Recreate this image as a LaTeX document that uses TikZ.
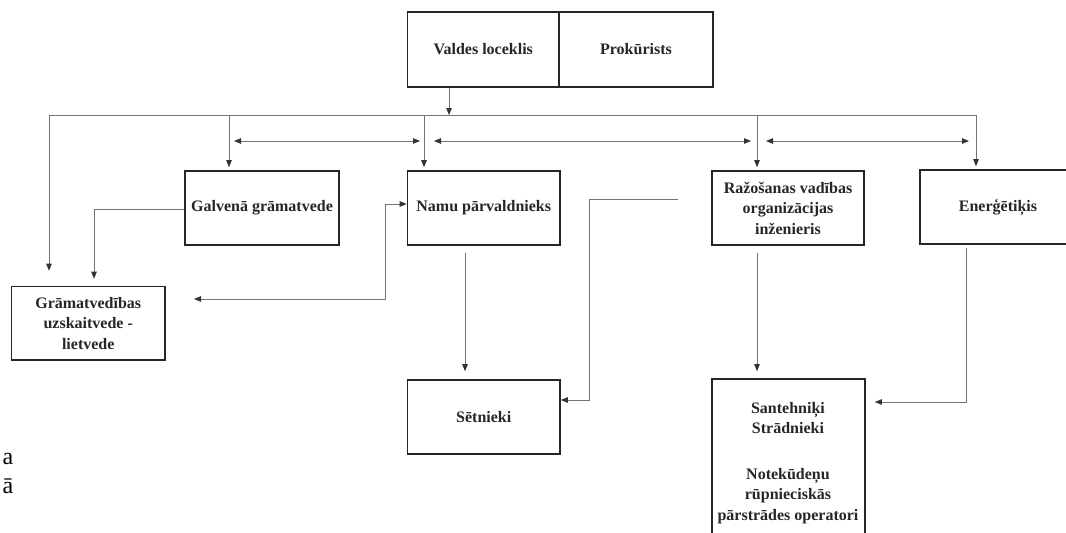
\documentclass[tikz,border=0pt]{standalone}
\usepackage{fontspec}
\setmainfont{Liberation Serif}
\usetikzlibrary{arrows.meta}
\tikzset{
  box/.style={draw=black!85, line width=1.6pt, text=black!85,
    font=\bfseries\fontsize{16}{20.5}\selectfont, align=center, inner sep=0pt},
  lbl/.style={text=black!85, font=\bfseries\fontsize{16}{20.5}\selectfont, align=center, inner sep=0pt},
  frag/.style={text=black, font=\fontsize{24}{28}\selectfont, inner sep=0pt, anchor=base east},
  ln/.style={draw=black!55, line width=0.8pt},
  arr/.style={ln, -{Triangle[length=7pt,width=5.5pt,color=black!80]}},
  arrs/.style={ln, {Triangle[length=7pt,width=5.5pt,color=black!80]}-{Triangle[length=7pt,width=5.5pt,color=black!80]}},
}
\begin{document}
\begin{tikzpicture}[x=1pt,y=-1pt]
\useasboundingbox (0,0) rectangle (1066,533);
\fill[white] (0,0) rectangle (1066,533);

% boxes
\node[box, minimum width=151.5pt, minimum height=75pt] (valdes) at (483.25,49.5) {Valdes loceklis};
\node[box, minimum width=154pt, minimum height=75pt] (prok) at (636,49.5) {Prokūrists};
\node[box, minimum width=154pt, minimum height=74pt] (galv) at (262,208) {Galvenā grāmatvede};
\node[box, minimum width=152.5pt, minimum height=74pt] (namu) at (483.75,208) {Namu pārvaldnieks};
\node[box, minimum width=152pt, minimum height=74pt] (razo) at (788,208) {Ražošanas vadības\\organizācijas\\inženieris};
\node[box, minimum width=156pt, minimum height=74pt] (energ) at (998,207) {Enerģētiķis};
\node[box, minimum width=153.5pt, minimum height=73.5pt] (gram) at (88.25,323.25) {Grāmatvedības\\uzskaitvede -\\lietvede};
\node[box, minimum width=152.5pt, minimum height=74pt] (setn) at (483.75,417) {Sētnieki};
\node[box, minimum width=153pt, minimum height=181pt] (sant) at (788.5,469.5) {};
\node[lbl] (santA) at (788,418) {Santehniķi\\Strādnieki};
\node[lbl] (santB) at (788,496) {Notekūdeņu\\rūpnieciskās\\pārstrādes operatori};

% fragments at left edge
\node[frag] (fragA) at (13.5,464) {a};
\node[frag] (fragB) at (13.5,493) {ā};

% coordinates
\coordinate (bus) at (449,115);
\coordinate (busL) at (49,115);
\coordinate (busR) at (976,115);
\coordinate (d1) at (229,115);
\coordinate (d2) at (424,115);
\coordinate (d3) at (757,115);
\coordinate (h1a) at (234,141);
\coordinate (h1b) at (420,141);
\coordinate (h2a) at (434,141);
\coordinate (h2b) at (751,141);
\coordinate (h3a) at (766,141);
\coordinate (h3b) at (969,141);
\coordinate (gx) at (94,209);
\coordinate (nx) at (385,204);
\coordinate (nend) at (194,299);
\coordinate (sfree) at (678,199);
\coordinate (sx) at (589,199);
\coordinate (sy) at (589,400);
\coordinate (ex) at (966,402);

% bus
\draw[arr] (valdes.south -| bus) -- (bus);
\draw[ln] (busL) -- (busR);
\draw[arr, shorten >=15pt] (busL) -- (busL |- gram.north);
\draw[arr, shorten >=3pt] (d1) -- (d1 |- galv.north);
\draw[arr, shorten >=3pt] (d2) -- (d2 |- namu.north);
\draw[arr, shorten >=3pt] (d3) -- (d3 |- razo.north);
\draw[arr, shorten >=3pt] (busR) -- (busR |- energ.north);

% horizontal double arrows
\draw[arrs] (h1a) -- (h1b);
\draw[arrs] (h2a) -- (h2b);
\draw[arrs] (h3a) -- (h3b);

% Galvena -> Gramatvedibas
\draw[arr, shorten >=7pt] (galv.west |- gx) -- (gx) -- (gx |- gram.north);

% Namu loop
\draw[arrs] (nend) -- (nend -| nx) -- (nx) -- (namu.west |- nx);

% Namu -> Setnieki
\draw[arr, shorten >=8pt, shorten <=7pt] (namu.south -| 465,0) -- (setn.north -| 465,0);

% free line -> Setnieki
\draw[arr] (sfree) -- (sx) -- (sy) -- (setn.east |- sy);

% Razosanas -> Santehniki
\draw[arr, shorten >=7pt, shorten <=7pt] (razo.south -| d3) -- (sant.north -| d3);

% Energetikis -> Santehniki
\draw[arr, shorten >=9pt, shorten <=3pt] (energ.south -| ex) -- (ex) -- (sant.east |- ex);
\end{tikzpicture}
\end{document}
